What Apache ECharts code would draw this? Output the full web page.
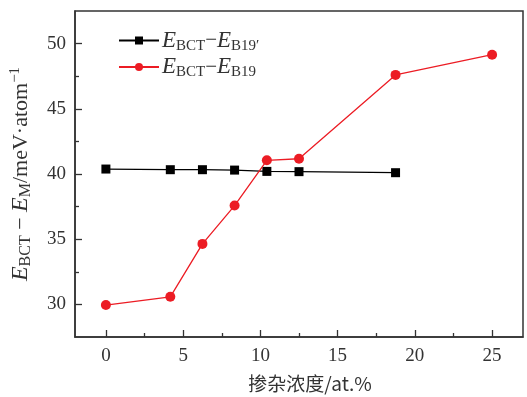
<!DOCTYPE html>
<html><head><meta charset="utf-8">
<script src="https://cdn.jsdelivr.net/npm/echarts@6/dist/echarts.min.js"></script>
<style>html,body{margin:0;padding:0;background:#fff}#c{width:527px;height:397px}</style>
</head><body><div id="c"></div>
<script>
var xB19p = [0, 4.17, 6.25, 8.33, 10.42, 12.5, 18.75];
var yB19p = [40.38, 40.33, 40.33, 40.30, 40.20, 40.18, 40.10];
var xB19 = [0, 4.17, 6.25, 8.33, 10.42, 12.5, 18.75, 25];
var yB19 = [29.95, 30.58, 34.64, 37.58, 41.05, 41.17, 47.6, 49.15];
var xTicks = [0, 5, 10, 15, 20, 25];
var xMinor = [2.5, 7.5, 12.5, 17.5, 22.5];
var yTicks = [30, 35, 40, 45, 50];
var yMinor = [32.5, 37.5, 42.5, 47.5];

function pairs(xs, ys){ return xs.map(function(x,i){return [x, ys[i]];}); }
var serif = '"Liberation Serif", "DejaVu Serif", serif';
var axisCol = '#333';
var rich = {
  e: {fontFamily: serif, fontStyle: 'italic', fontSize: 23, color: '#333', lineHeight: 30, verticalAlign: 'middle'},
  s: {fontFamily: serif, fontSize: 15, color: '#333', lineHeight: 30, verticalAlign: 'bottom', padding: [0,0,2,0]},
  p: {fontFamily: serif, fontSize: 14, color: '#333', lineHeight: 30, verticalAlign: 'top', padding: [1,0,0,0]},
  t: {fontFamily: serif, fontSize: 21, color: '#333', lineHeight: 30, verticalAlign: 'middle'}
};
var richY = {
  e: {fontFamily: serif, fontStyle: 'italic', fontSize: 24, color: '#333', lineHeight: 30, verticalAlign: 'middle'},
  s: {fontFamily: serif, fontSize: 16, color: '#333', lineHeight: 30, verticalAlign: 'bottom', padding: [0,0,2,0]},
  p: {fontFamily: serif, fontSize: 15, color: '#333', lineHeight: 30, verticalAlign: 'top', padding: [1,0,0,0]},
  t: {fontFamily: serif, fontSize: 22, color: '#333', lineHeight: 30, verticalAlign: 'middle'}
};
var chart = echarts.init(document.getElementById('c'));
var lbl = {fontFamily: serif, fontSize: 19, color: '#333'};
chart.setOption({
  animation: false,
  grid: {left: 75, top: 11, right: 4, bottom: 60, outerBoundsMode: 'none', containLabel: false, show: true, borderColor: axisCol, borderWidth: 1.5, backgroundColor: 'transparent'},
  legend: {
    left: 113, top: 24, orient: 'vertical', itemWidth: 40, itemHeight: 10, itemGap: 0,
    data: ['B19p', 'B19'],
    formatter: function(n){
      return n === 'B19p' ? '{e|E}{s|BCT}{t|−}{e|E}{s|B19′}' : '{e|E}{s|BCT}{t|−}{e|E}{s|B19}';
    },
    textStyle: {rich: rich, padding: [0,0,0,-2]}
  },
  xAxis: [{
    type: 'value', min: -2, max: 27,
    name: '掺杂浓度/at.%', nameLocation: 'middle', nameGap: 37,
    nameTextStyle: {fontFamily: '"Noto Sans CJK SC", ' + serif, fontSize: 19, color: '#333', padding: [0,0,0,22]},
    axisLine: {show: true, onZero: false, lineStyle: {color: axisCol, width: 1.5}},
    axisTick: {show: true, inside: true, length: 7, customValues: xTicks, lineStyle: {color: axisCol, width: 1.3}},
    axisLabel: {customValues: xTicks, margin: 10, ...lbl},
    splitLine: {show: false}
  }, {
    type: 'value', min: -2, max: 27, position: 'bottom',
    axisLine: {show: false, onZero: false},
    axisTick: {show: true, inside: true, length: 4, customValues: xMinor, lineStyle: {color: axisCol, width: 1.3}},
    axisLabel: {show: false}, splitLine: {show: false}
  }],
  yAxis: [{
    type: 'value', min: 27.5, max: 52.5,
    name: '{e|E}{s|BCT}{t| − }{e|E}{s|M}{t|/meV·atom}{p|−1}', nameLocation: 'middle', nameGap: 38,
    nameTextStyle: {rich: richY},
    axisLine: {show: true, onZero: false, lineStyle: {color: axisCol, width: 1.5}},
    axisTick: {show: true, inside: true, length: 7, customValues: yTicks, lineStyle: {color: axisCol, width: 1.3}},
    axisLabel: {customValues: yTicks, margin: 9, ...lbl},
    splitLine: {show: false}
  }, {
    type: 'value', min: 27.5, max: 52.5, position: 'left',
    axisLine: {show: false, onZero: false},
    axisTick: {show: true, inside: true, length: 4, customValues: yMinor, lineStyle: {color: axisCol, width: 1.3}},
    axisLabel: {show: false}, splitLine: {show: false}
  }],
  series: [{
    name: 'B19p', type: 'line', data: pairs(xB19p, yB19p),
    symbol: 'rect', symbolSize: 9, color: '#000',
    lineStyle: {color: '#000', width: 1.3}, itemStyle: {color: '#000'}, z: 3
  }, {
    name: 'B19', type: 'line', data: pairs(xB19, yB19),
    symbol: 'circle', symbolSize: 10, color: '#ec1c24',
    lineStyle: {color: '#ec1c24', width: 1.3}, itemStyle: {color: '#ec1c24'}, z: 4
  }]
});
</script></body></html>
